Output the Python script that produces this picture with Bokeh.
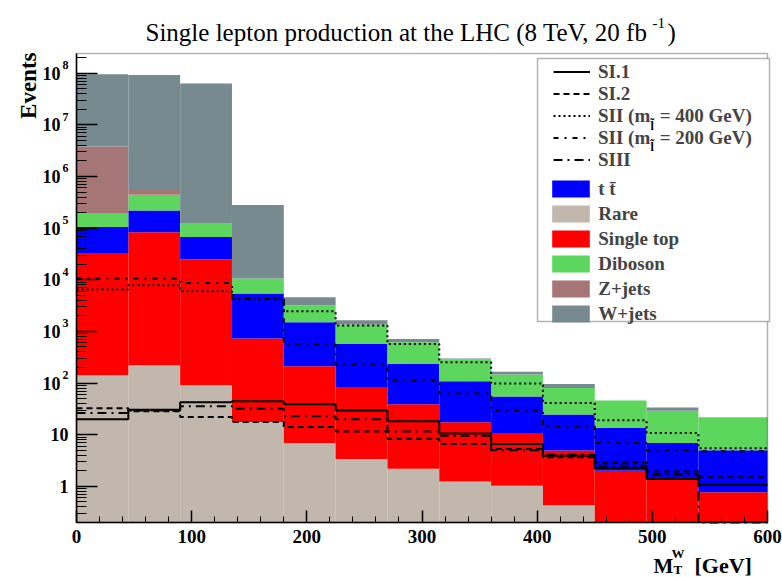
import math
from bokeh.plotting import figure
from bokeh.models import (Range1d, FixedTicker, CustomJSTickFormatter, LinearAxis, LogAxis, LogScale,
                          Legend, LegendItem, Label, LabelSet, ColumnDataSource, BoxAnnotation)
from bokeh.core.properties import value
from bokeh.embed import file_html
from bokeh.resources import INLINE

# ---------------- data ----------------
bin_edges = [0, 45, 90, 135, 180, 225, 270, 315, 360, 405, 450, 495, 540, 600]

# background processes (events per bin), stacked from bottom to top
rare       = [141, 221, 91, 17.6, 6.9, 3.4, 2.2, 1.25, 1.03, 0.43, 0, 0, 0]
single_top = [32900, 82800, 24600, 712, 204, 80.6, 36.8, 16.2, 9.8, 4.5, 2.0, 1.35, 0.77]
ttbar      = [72000, 137000, 42300, 4670, 1290, 489, 195, 90.6, 44.2, 19.6, 11.5, 5.55, 4.23]
diboson    = [90000, 220000, 58000, 5200, 1700, 787, 383, 181, 91, 55.5, 32.5, 22.1, 16.7]
zjets      = [3600000, 130000, 0, 0, 0, 0, 0, 0, 0, 0, 0, 0, 0]
wjets      = [91200000, 91400000, 62900000, 269000, 1400, 288, 98, 9, 19, 16, 0, 4.6, 0]

# signal benchmarks (events per bin); last SIII bin lies below the axis minimum
si1     = [20, 30.6, 42.5, 44.4, 39, 29.3, 18.2, 10.6, 6.6, 3.9, 2.26, 1.39, 1.08]
si2     = [32.5, 28.4, 22, 17.6, 14.1, 11.6, 8.4, 6.6, 5.3, 3.65, 2.9, 1.95, 1.5]
sii400  = [6500, 7800, 6000, 4200, 2450, 1300, 573, 253, 98, 41, 19, 10.8, 5.5]
sii200  = [10600, 10600, 8700, 4250, 557, 229, 112, 63, 29, 14.5, 6.9, 5.0, 4.8]
siii    = [26.4, 29.5, 35.5, 32, 22.7, 19.9, 11.6, 9.6, 5.0, 4.1, 2.5, 1.7, 0.2]

bkg_names  = ["Rare", "Single top", "t t\u0304", "Diboson", "Z+jets", "W+jets"]
bkg_values = [rare, single_top, ttbar, diboson, zjets, wjets]
bkg_colors = ["#c1b7ad", "#ff0000", "#0000ff", "#5cd65c", "#a67676", "#778a90"]
legend_bkg_order = ["t t\u0304", "Rare", "Single top", "Diboson", "Z+jets", "W+jets"]

sig_names  = ["SI.1", "SI.2", "SII (m\u2002= 400 GeV)", "SII (m\u2002= 200 GeV)", "SIII"]
sig_values = [si1, si2, sii400, sii200, siii]
sig_dashes = ["solid", "6 4", "2 3", "5 6 2 6", "9 5 2 5"]

xtick_values = [0, 100, 200, 300, 400, 500, 600]
ytick_values = [1, 10, 1e2, 1e3, 1e4, 1e5, 1e6, 1e7, 1e8]
ytick_base   = ["1", "10", "10", "10", "10", "10", "10", "10", "10"]
ytick_exp    = ["", "", "2", "3", "4", "5", "6", "7", "8"]

title_main = "Single lepton production at the LHC (8 TeV, 20 fb"
title_sup = "-1"
title_end = ")"

# ---------------- geometry (pixels) ----------------
W, H = 782, 577
AX_L, AX_R, AX_T, AX_B = 76, 767, 53, 522     # data area inside the canvas
XMIN, XMAX = 0, 600
YMIN, YMAX = 0.2, 2.4e8
SERIF = "Liberation Serif"

px_x = (AX_R - AX_L) / (XMAX - XMIN)
dec = (AX_B - AX_T) / math.log10(YMAX / YMIN)
x_range = Range1d(XMIN - AX_L / px_x, XMAX + (W - AX_R) / px_x)
y_range = Range1d(YMIN / 10 ** ((H - AX_B) / dec), YMAX * 10 ** (AX_T / dec))

p = figure(width=W, height=H, x_range=x_range, y_range=y_range,
           y_axis_type="log", x_axis_location=None, y_axis_location=None,
           output_backend="svg", toolbar_location=None,
           min_border=0, min_border_left=0, min_border_right=0, min_border_top=0, min_border_bottom=0,
           background_fill_color="white", border_fill_color="white")
p.y_scale = LogScale()
p.grid.visible = False
p.outline_line_color = None

# stacked histogram (clamped at the axis minimum)
left = bin_edges[:-1]
right = bin_edges[1:]
cum = [0.0] * len(left)
bkg_renderers = {}
for name, vals, col in zip(bkg_names, bkg_values, bkg_colors):
    new = [c + v for c, v in zip(cum, vals)]
    src = ColumnDataSource(dict(left=left, right=right,
                                bottom=[max(c, YMIN) for c in cum],
                                top=[max(n, YMIN) for n in new]))
    r = p.quad(left="left", right="right", bottom="bottom", top="top", source=src,
               fill_color=col, line_color=None)
    bkg_renderers[name] = r
    cum = new

# signal step lines
sig_renderers = []
for name, vals, dash in zip(sig_names, sig_values, sig_dashes):
    r = p.step(x=bin_edges, y=vals + [vals[-1]], mode="after", line_color="black",
               line_width=2, line_dash=dash)
    sig_renderers.append(r)

# frame of the data area
p.add_layout(BoxAnnotation(left=XMIN, right=XMAX, bottom=YMIN, top=YMAX, fill_alpha=0,
                           line_color="black", line_width=1.5))

# axes at fixed locations
xminor = [v for v in range(XMIN + 20, XMAX, 20) if v % 100 != 0]
xa = LinearAxis(fixed_location=YMIN, bounds=(XMIN, XMAX),
                ticker=FixedTicker(ticks=xtick_values, minor_ticks=xminor))
xa.major_tick_in = 12
xa.major_tick_out = 0
xa.minor_tick_in = 6
xa.minor_tick_out = 0
xa.major_label_standoff = 7
xa.major_label_text_font = SERIF
xa.major_label_text_font_style = "bold"
xa.major_label_text_font_size = "19px"
xa.major_label_text_color = "black"
xa.axis_line_width = 1.5
xa.major_tick_line_width = 1.5
p.add_layout(xa, "below")

yminor = []
for k in range(-1, 9):
    for m in range(2, 10):
        v = m * 10 ** k
        if YMIN <= v <= YMAX:
            yminor.append(v)
ya = LogAxis(fixed_location=XMIN, bounds=(YMIN, YMAX),
             ticker=FixedTicker(ticks=ytick_values, minor_ticks=yminor))
ya.formatter = CustomJSTickFormatter(code="return ''")
ya.major_tick_in = 21
ya.major_tick_out = 0
ya.minor_tick_in = 10
ya.minor_tick_out = 0
ya.axis_line_width = 1.5
ya.major_tick_line_width = 1.5
p.add_layout(ya, "left")

# y tick labels with superscript exponents
xs_base = [AX_L - 16 if e else AX_L - 8 for e in ytick_exp]
lab_src = ColumnDataSource(dict(x=xs_base, y=ytick_values, text=ytick_base))
p.add_layout(LabelSet(x="x", y="y", text="text", source=lab_src, x_units="screen", y_units="data",
                      text_align="right", text_baseline="middle", text_font=value(SERIF),
                      text_font_style="bold", text_font_size="18px", text_color="black"))
exp_src = ColumnDataSource(dict(x=[AX_L - 14] * len(ytick_exp), y=ytick_values, text=ytick_exp))
p.add_layout(LabelSet(x="x", y="y", text="text", source=exp_src, x_units="screen", y_units="data",
                      text_align="left", text_baseline="middle", y_offset=8, text_font=value(SERIF),
                      text_font_style="bold", text_font_size="12px", text_color="black"))


def put(text, x, y, size, bold=True, align="left", baseline="alphabetic", angle=0.0):
    p.add_layout(Label(x=x, y=H - y, x_units="screen", y_units="screen", text=text,
                       text_align=align, text_baseline=baseline, angle=angle,
                       text_font=SERIF, text_font_style="bold" if bold else "normal",
                       text_font_size=f"{size}px", text_color="black"))


# title
put(title_main, 145, 32, 25, bold=False)
put(title_sup, 652, 22, 15, bold=False)
put(title_end, 667, 32, 25, bold=False)
# axis titles
put("Events", 28, 52, 23, align="right", angle=math.pi / 2)
put("M", 653, 565, 21)
put("W", 671, 553, 13)
put("T", 673, 569, 13)
put("[GeV]", 694, 565, 22)

# legend box
p.add_layout(BoxAnnotation(left=537, right=769, top=H - 58, bottom=H - 321,
                           left_units="screen", right_units="screen",
                           top_units="screen", bottom_units="screen",
                           fill_color="white", fill_alpha=1.0, line_color="black", line_width=1.5))

leg_a = Legend(items=[LegendItem(label=n, renderers=[r]) for n, r in zip(sig_names, sig_renderers)],
               location=(553, H - 170.5), glyph_width=37, glyph_height=21, label_height=21,
               spacing=0, padding=0, margin=0, label_standoff=8,
               border_line_color=None, background_fill_alpha=0,
               label_text_font=SERIF, label_text_font_style="bold", label_text_font_size="19px")
leg_b = Legend(items=[LegendItem(label=n, renderers=[bkg_renderers[n]]) for n in legend_bkg_order],
               location=(547.3, H - 324.5), glyph_width=47, glyph_height=21, label_height=21,
               spacing=3, padding=0, margin=0, label_standoff=4,
               border_line_color=None, background_fill_alpha=0,
               label_text_font=SERIF, label_text_font_style="bold", label_text_font_size="19px")
p.add_layout(leg_a)
p.add_layout(leg_b)

# slepton subscripts inside legend labels
for yy in (125, 146):
    put("l\u0303", 650, yy, 12, baseline="middle")

open("out.html", "w").write(file_html(p, INLINE))
